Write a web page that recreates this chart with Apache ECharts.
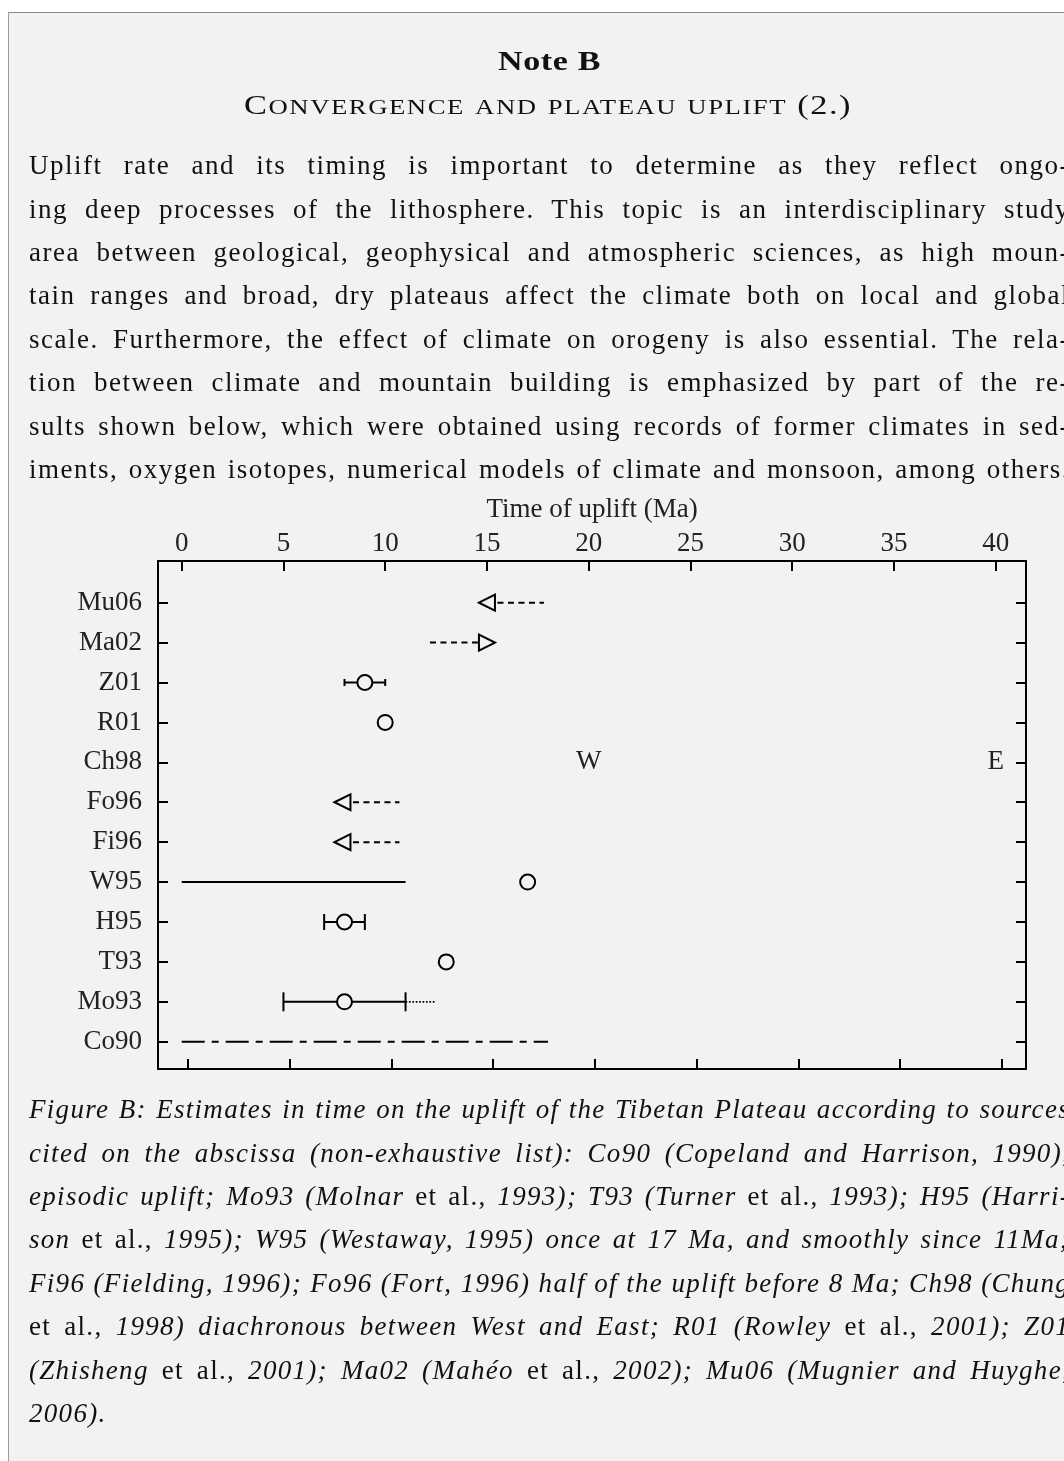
<!DOCTYPE html>
<html><head><meta charset="utf-8">
<script src="https://cdn.jsdelivr.net/npm/echarts@6/dist/echarts.min.js"></script>
<style>
html,body{margin:0;padding:0;width:1064px;height:1461px;overflow:hidden;background:#fff;}
#frame{position:absolute;left:8px;top:12px;width:1200px;height:1600px;background:#f2f2f2;border-left:1.5px solid #9a9a9a;border-top:1.5px solid #8a8a8a;}
#chart{position:absolute;left:0;top:0;width:1064px;height:1461px;}
.ln{position:absolute;left:29px;height:43.4px;line-height:43.4px;font-family:'Liberation Serif',serif;font-size:27px;color:#111;white-space:nowrap;display:inline-block;}
.cap{font-style:italic;}
.up{font-style:normal;}
.hd{position:absolute;height:43.4px;line-height:43.4px;font-family:'Liberation Serif',serif;font-size:27px;color:#111;white-space:nowrap;display:inline-block;transform-origin:0 50%;}
.sc{font-size:21px;}
</style></head>
<body>
<div id="frame"></div>
<div id="chart"></div>
<div id="texts"></div>
<script>
// ---------- data ----------
const categories = ['Co90','Mo93','T93','H95','W95','Fi96','Fo96','Ch98','R01','Z01','Ma02','Mu06']; // bottom -> top
const xTicks = [0,5,10,15,20,25,30,35,40];
const circlePoints = [['Z01',9],['R01',10],['W95',17],['H95',8],['T93',13],['Mo93',8]];
const errorBars = [['Z01',8,10],['H95',7,9],['Mo93',5,11]];
const solidRanges = [['W95',0,11]];
const dottedRanges = [['Mo93',11,12.5]];
const dashedRanges = [['Mu06',15,17.8],['Ma02',12.2,15],['Fo96',7.9,10.7],['Fi96',7.9,10.7]];
const arrowsLeft = [['Mu06',15],['Fo96',7.9],['Fi96',7.9]];
const arrowsRight = [['Ma02',15]];
const dashDotRanges = [['Co90',0,18]];
const textMarks = [['Ch98',20,'W'],['Ch98',40,'E']];

const bodyLines = [
 'Uplift rate and its timing is important to determine as they reflect ongo-',
 'ing deep processes of the lithosphere. This topic is an interdisciplinary study',
 'area between geological, geophysical and atmospheric sciences, as high moun-',
 'tain ranges and broad, dry plateaus affect the climate both on local and global',
 'scale. Furthermore, the effect of climate on orogeny is also essential. The rela-',
 'tion between climate and mountain building is emphasized by part of the re-',
 'sults shown below, which were obtained using records of former climates in sed-',
 'iments, oxygen isotopes, numerical models of climate and monsoon, among others.'
];
const captionLines = [
 'Figure B: Estimates in time on the uplift of the Tibetan Plateau according to sources',
 'cited on the abscissa (non-exhaustive list): Co90 (Copeland and Harrison, 1990),',
 'episodic uplift; Mo93 (Molnar <span class="up">et al.,</span> 1993); T93 (Turner <span class="up">et al.,</span> 1993); H95 (Harri-',
 'son <span class="up">et al.,</span> 1995); W95 (Westaway, 1995) once at 17 Ma, and smoothly since 11Ma;',
 'Fi96 (Fielding, 1996); Fo96 (Fort, 1996) half of the uplift before 8 Ma; Ch98 (Chung',
 '<span class="up">et al.,</span> 1998) diachronous between West and East; R01 (Rowley <span class="up">et al.,</span> 2001); Z01',
 '(Zhisheng <span class="up">et al.,</span> 2001); Ma02 (Mahéo <span class="up">et al.,</span> 2002); Mu06 (Mugnier and Huyghe,',
 '2006).'
];
const heading1 = 'Note B';
const heading2 = 'Convergence and plateau uplift (2.)';

// ---------- text layout ----------
const texts = document.getElementById('texts');
function addLine(html, top, cls, target, ls) {
  const el = document.createElement('div');
  el.className = 'ln ' + (cls || '');
  el.style.top = top + 'px';
  el.style.letterSpacing = ls + 'px';
  el.innerHTML = html;
  texts.appendChild(el);
  if (target) {
    const w = el.getBoundingClientRect().width;
    const n = (el.textContent.match(/ /g) || []).length;
    if (n) el.style.wordSpacing = ((target - w) / n) + 'px';
  }
  return el;
}
bodyLines.forEach((t, i) => addLine(t, 144.2 + 43.4 * i, '', 1041, 1.5));
captionLines.forEach((t, i) => addLine(t, 1088.2 + 43.4 * i, 'cap', i < captionLines.length - 1 ? 1041 : 0, 1.3));

function smallCaps(text) {
  // first letter of each word full-size capital, the rest reduced capitals
  return text.split(' ').map(w => {
    const m = w.match(/^([A-Z])(.*)$/);
    if (m) return m[1] + '<span class="sc">' + m[2].toUpperCase() + '</span>';
    if (/^[a-z]/.test(w)) return '<span class="sc">' + w.toUpperCase() + '</span>';
    return w;
  }).join(' ');
}
function addHeading(html, center, top, target, css, ls) {
  const el = document.createElement('div');
  el.className = 'hd';
  el.style.cssText = css;
  el.style.top = top + 'px';
  el.style.letterSpacing = ls + 'px';
  el.innerHTML = html;
  texts.appendChild(el);
  const w = el.getBoundingClientRect().width;
  el.style.transform = 'scaleX(' + (target / w) + ')';
  el.style.left = (center - target / 2) + 'px';
}
addHeading(heading1, 549, 40.2, 103, 'font-weight:bold;', 0.5);
addHeading(smallCaps(heading2), 548, 83.8, 608, '', 1.2);

// ---------- chart ----------
const FONT = 'Liberation Serif';
const yOf = name => categories.indexOf(name) + 1;
const chart = echarts.init(document.getElementById('chart'), null, {renderer: 'canvas'});

function rangeSeries(ranges, dash, width) {
  return {
    type: 'custom', xAxisIndex: 0, yAxisIndex: 0, z: 2, silent: true,
    data: ranges.map(r => [r[1], r[2], yOf(r[0])]),
    renderItem: (params, api) => {
      const p1 = api.coord([api.value(0), api.value(2)]);
      const p2 = api.coord([api.value(1), api.value(2)]);
      return {type: 'line', shape: {x1: p1[0], y1: p1[1], x2: p2[0], y2: p2[1]},
        style: {stroke: '#000', lineWidth: width, lineDash: dash, lineCap: 'butt'}};
    }
  };
}
const capHeight = {Z01: 7, H95: 16, Mo93: 19};
const errorSeries = {
  type: 'custom', xAxisIndex: 0, yAxisIndex: 0, z: 3, silent: true,
  data: errorBars.map(r => [r[1], r[2], yOf(r[0])]),
  renderItem: (params, api) => {
    const p1 = api.coord([api.value(0), api.value(2)]);
    const p2 = api.coord([api.value(1), api.value(2)]);
    const h = capHeight[categories[api.value(2) - 1]] / 2;
    const st = {stroke: '#000', lineWidth: 2};
    return {type: 'group', children: [
      {type: 'line', shape: {x1: p1[0], y1: p1[1], x2: p2[0], y2: p2[1]}, style: st},
      {type: 'line', shape: {x1: p1[0], y1: p1[1] - h, x2: p1[0], y2: p1[1] + h}, style: st},
      {type: 'line', shape: {x1: p2[0], y1: p2[1] - h, x2: p2[0], y2: p2[1] + h}, style: st}
    ]};
  }
};
const markerStyle = {color: '#f2f2f2', borderColor: '#000', borderWidth: 2, opacity: 1};
const textSeries = {
  type: 'custom', xAxisIndex: 0, yAxisIndex: 0, z: 4, silent: true,
  data: textMarks.map(t => [t[1], yOf(t[0])]),
  renderItem: (params, api) => {
    const p = api.coord([api.value(0), api.value(1)]);
    return {type: 'text', x: p[0], y: p[1], style: {text: textMarks[params.dataIndex][2],
      align: 'center', verticalAlign: 'middle', fontSize: 27, fontFamily: FONT, fill: '#222'}};
  }
};

const axisLineStyle = {show: true, onZero: false, lineStyle: {color: '#000', width: 2}};
const tickStyle = vals => ({show: true, inside: true, length: 10, customValues: vals, lineStyle: {color: '#000', width: 2}});
const yVals = categories.map((c, i) => i + 1);

chart.setOption({
  backgroundColor: 'transparent',
  animation: false,
  grid: {left: 158, top: 561, width: 868, height: 508, containLabel: false, outerBoundsMode: 'none'},
  xAxis: [
    {type: 'value', position: 'top', min: -1.1646, max: 41.489,
     axisLine: axisLineStyle, axisTick: tickStyle(xTicks),
     axisLabel: {customValues: xTicks, fontSize: 27, fontFamily: FONT, color: '#222', margin: 4},
     splitLine: {show: false},
     name: 'Time of uplift (Ma)', nameLocation: 'middle', nameGap: 38,
     nameTextStyle: {fontSize: 27, fontFamily: FONT, color: '#222'}},
    {type: 'value', position: 'bottom', min: -1.474, max: 41.18,
     axisLine: axisLineStyle, axisTick: tickStyle(xTicks),
     axisLabel: {show: false}, splitLine: {show: false}}
  ],
  yAxis: [
    {type: 'value', position: 'left', min: 0.316, max: 13.045,
     axisLine: axisLineStyle, axisTick: tickStyle(yVals),
     axisLabel: {customValues: yVals, formatter: v => categories[Math.round(v) - 1], fontSize: 27, fontFamily: FONT, color: '#222', margin: 16},
     splitLine: {show: false}},
    {type: 'value', position: 'right', min: 0.316, max: 13.045,
     axisLine: axisLineStyle, axisTick: tickStyle(yVals),
     axisLabel: {show: false}, splitLine: {show: false}}
  ],
  series: [
    rangeSeries(solidRanges, null, 2),
    rangeSeries(dashedRanges, [6, 4.5], 2),
    rangeSeries(dottedRanges, [1.7, 1.7], 1.8),
    rangeSeries(dashDotRanges, [23, 7, 7, 7], 2),
    errorSeries,
    {type: 'scatter', xAxisIndex: 0, yAxisIndex: 0, z: 5, silent: true, symbol: 'circle', symbolSize: 15,
     itemStyle: markerStyle, data: circlePoints.map(c => [c[1], yOf(c[0])])},
    {type: 'scatter', xAxisIndex: 0, yAxisIndex: 0, z: 5, silent: true, symbol: 'triangle', symbolSize: 16, symbolRotate: 90,
     itemStyle: markerStyle, data: arrowsLeft.map(c => [c[1], yOf(c[0])])},
    {type: 'scatter', xAxisIndex: 0, yAxisIndex: 0, z: 5, silent: true, symbol: 'triangle', symbolSize: 16, symbolRotate: -90,
     itemStyle: markerStyle, data: arrowsRight.map(c => [c[1], yOf(c[0])])},
    textSeries
  ]
});
</script>
</body></html>
